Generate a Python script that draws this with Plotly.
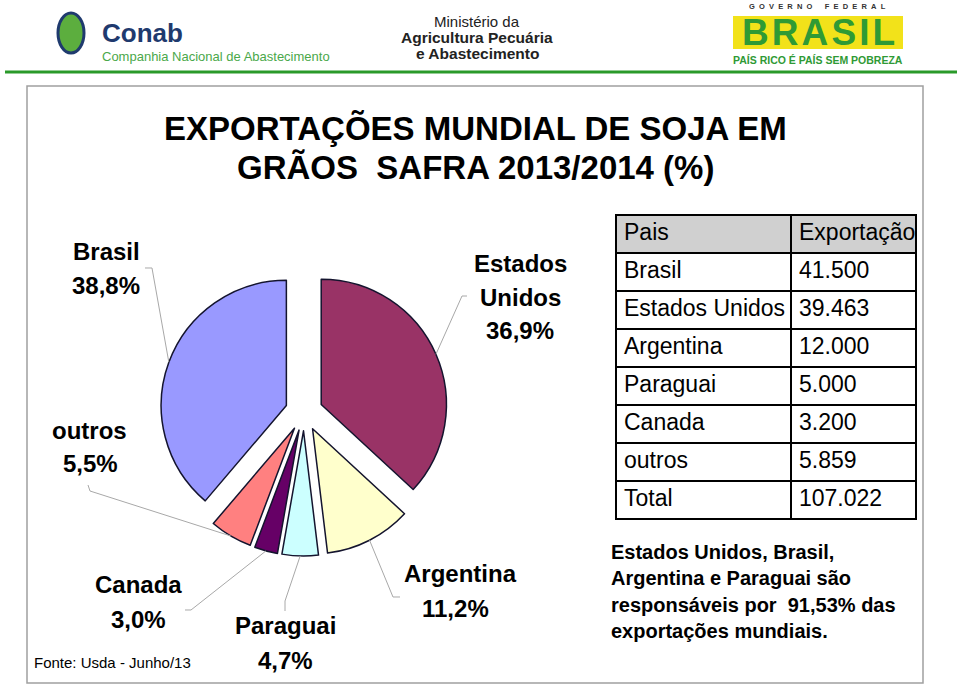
import math
import plotly.graph_objects as go

# ---------------- data ----------------
paises = ["Brasil", "Estados Unidos", "Argentina", "Paraguai", "Canada", "outros"]
exportacao = [41500, 39463, 12000, 5000, 3200, 5859]

pie_order = ["Estados Unidos", "Argentina", "Paraguai", "Canada", "outros", "Brasil"]
pie_colors = {"Estados Unidos": "#993366", "Argentina": "#FFFFCC", "Paraguai": "#CCFFFF",
              "Canada": "#660066", "outros": "#FF8080", "Brasil": "#9999FF"}

titulo1 = "EXPORTAÇÕES MUNDIAL DE SOJA EM"
titulo2 = "GRÃOS&nbsp;&nbsp;SAFRA 2013/2014 (%)"
fonte = "Fonte: Usda - Junho/13"
nota = ["Estados Unidos, Brasil,", "Argentina e Paraguai são",
        "responsáveis por&nbsp;&nbsp;91,53% das", "exportações mundiais."]

# ---------------- helpers ----------------
W, H = 960, 685
FONT = "Liberation Sans, Arial, Helvetica, sans-serif"


def px(x, y):
    return x / W, 1 - y / H


def fmt_num(v):
    return f"{v:,}".replace(",", ".")


def fmt_pct(p):
    return f"{p:.1f}%".replace(".", ",")


vals = dict(zip(paises, exportacao))
total = sum(exportacao)
pie_vals = [vals[p] for p in pie_order]

# pie geometry (plotly: r = min(box)/2/(1+maxpull))
pie_cx, pie_cy, box = 304, 412, 288
pull = 0.15
r = box / 2 / (1 + pull)
dom_x = [(pie_cx - box / 2) / W, (pie_cx + box / 2) / W]
dom_y = [1 - (pie_cy + box / 2) / H, 1 - (pie_cy - box / 2) / H]

fig = go.Figure()
fig.add_trace(go.Pie(
    labels=pie_order, values=pie_vals, sort=False, direction="clockwise", rotation=0,
    pull=[pull] * len(pie_order),
    marker=dict(colors=[pie_colors[p] for p in pie_order], line=dict(color="#14142e", width=1.5)),
    textinfo="none", hoverinfo="label+percent", showlegend=False,
    domain=dict(x=dom_x, y=dom_y),
))

# table
rows_p = [p.replace(" ", "\u00a0") for p in paises] + ["Total"]
rows_v = [fmt_num(v) for v in exportacao] + [fmt_num(total)]
fig.add_trace(go.Table(
    domain=dict(x=[616 / W, 916 / W], y=[1 - 525 / H, 1 - 215 / H]),
    columnwidth=[175, 125],
    header=dict(values=["Pais", "Exportação"], fill_color="#d0d0d0",
                line=dict(color="black", width=2), align="left", height=38,
                font=dict(family=FONT, size=23, color="black")),
    cells=dict(values=[rows_p, rows_v], fill_color="white",
               line=dict(color="black", width=2), align="left", height=38,
               font=dict(family=FONT, size=23, color="black")),
))

# slice edge points (data-driven) for leader lines
edge = {}
cum = 0.0
for name, v in zip(pie_order, pie_vals):
    frac = v / total
    th = math.radians((cum + frac / 2) * 360)
    cx = pie_cx + pull * r * math.sin(th)
    cy = pie_cy - pull * r * math.cos(th)
    edge[name] = (cx + r * math.sin(th), cy - r * math.cos(th))
    cum += frac

# label layout: (line1 pos, line2 pos, leader elbow, leader end)
label_layout = {
    "Brasil": [((106, 252), (106, 285)), (152, 268), (145, 268)],
    "outros": [((89, 430), (90, 463)), (90, 491), (88, 485)],
    "Canada": [((138, 584), (138, 619)), (191, 610), (185, 610)],
    "Paraguai": [((285, 625), (285, 660)), (285, 601), (285, 611)],
    "Argentina": [((460, 573), (455, 608)), (393, 597), (400, 597)],
}

shapes = []
annotations = []


def text(x, y, s, size, bold=False, color="black", anchor="center", family=FONT):
    xx, yy = px(x, y)
    annotations.append(dict(x=xx, y=yy, xref="paper", yref="paper", text=(f"<b>{s}</b>" if bold else s),
                            showarrow=False, xanchor=anchor, yanchor="middle",
                            font=dict(family=family, size=size, color=color)))


def leader(points):
    pts = [px(*p) for p in points]
    path = "M " + " L ".join(f"{a:.5f},{b:.5f}" for a, b in pts)
    shapes.append(dict(type="path", path=path, xref="paper", yref="paper",
                       line=dict(color="#a8a8a8", width=1)))


for name, (lines, elbow, end) in label_layout.items():
    pct = vals[name] / total * 100
    text(*lines[0], name, 24, bold=True)
    text(*lines[1], fmt_pct(pct), 24, bold=True)
    leader([edge[name], elbow, end])

# Estados Unidos label (three lines)
pct_us = vals["Estados Unidos"] / total * 100
text(520, 263, "Estados", 24, bold=True)
text(520, 297, "Unidos", 24, bold=True)
text(520, 330, fmt_pct(pct_us), 24, bold=True)
leader([edge["Estados Unidos"], (462, 296), (467, 296)])

# titles & notes
text(475, 128, titulo1, 33, bold=True)
text(475, 167, titulo2, 33, bold=True)
text(32, 662, fonte, 15, anchor="left")
for i, ln in enumerate(nota):
    text(609, 552 + i * 26.3, ln, 20, bold=True, anchor="left")

# frame
x0, y0 = px(27, 86)
x1, y1 = px(923, 683)
shapes.append(dict(type="rect", xref="paper", yref="paper", x0=x0, y0=y1, x1=x1, y1=y0,
                   line=dict(color="#a0a0a0", width=1.5), layer="below"))

# header band: green rule
gx0, gy = px(5, 72)
gx1, _ = px(957, 72)
shapes.append(dict(type="line", xref="paper", yref="paper", x0=gx0, y0=gy, x1=gx1, y1=gy,
                   line=dict(color="#2a9a2a", width=3)))

# Conab logo (approximation)
cx0, cy0 = px(58, 13)
cx1, cy1 = px(84, 53)
shapes.append(dict(type="circle", xref="paper", yref="paper", x0=cx0, y0=cy1, x1=cx1, y1=cy0,
                   fillcolor="#5cae3e", line=dict(color="#1f3a6e", width=3)))
text(100, 33, "Conab", 26, bold=True, color="#1f3a6e", anchor="left")
text(100, 57, "Companhia Nacional de Abastecimento", 13, color="#4aa84a", anchor="left")

# Ministério
text(477, 21, "Ministério da", 15, color="#222222")
text(477, 37, "Agricultura Pecuária", 15.5, bold=True, color="#222222")
text(477, 53, "e Abastecimento", 15.5, bold=True, color="#222222")

# Governo Federal / Brasil
text(817, 6, "G&nbsp;&nbsp;O&nbsp;&nbsp;V&nbsp;&nbsp;E&nbsp;&nbsp;R&nbsp;&nbsp;N&nbsp;&nbsp;O&nbsp;&nbsp;&nbsp;&nbsp;&nbsp;&nbsp;F&nbsp;&nbsp;E&nbsp;&nbsp;D&nbsp;&nbsp;E&nbsp;&nbsp;R&nbsp;&nbsp;A&nbsp;&nbsp;L",
     7.5, bold=True, color="#333333")
bx0, by0 = px(733, 16)
bx1, by1 = px(903, 49)
shapes.append(dict(type="rect", xref="paper", yref="paper", x0=bx0, y0=by1, x1=bx1, y1=by0,
                   fillcolor="#f2e21a", line=dict(width=0), layer="below"))
text(818, 33, "B&#8202;R&#8202;A&#8202;S&#8202;I&#8202;L", 37, bold=True, color="#2f9a35")
text(818, 60, "PAÍS RICO É PAÍS SEM POBREZA", 10.5, bold=True, color="#2f9a35")

fig.update_layout(
    width=W, height=H, margin=dict(l=0, r=0, t=0, b=0),
    paper_bgcolor="white", plot_bgcolor="white",
    shapes=shapes, annotations=annotations,
)

fig.write_html("out.html", config={"displayModeBar": False},
               post_script="document.body.style.margin='0';document.body.style.overflow='hidden';")
